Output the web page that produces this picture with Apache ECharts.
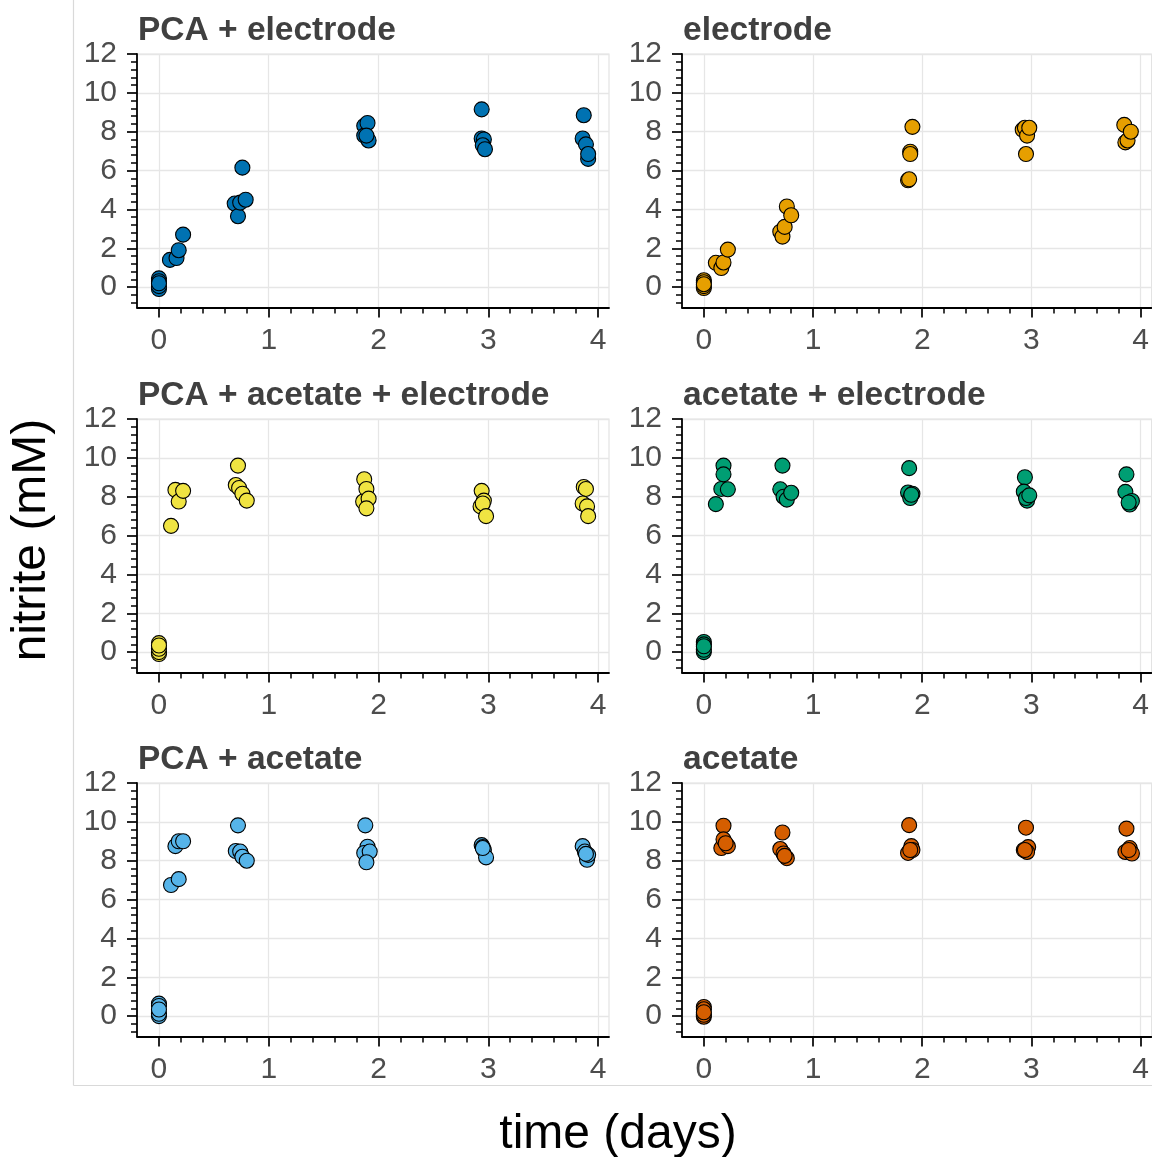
<!DOCTYPE html>
<html>
<head>
<meta charset="utf-8">
<script src="https://cdn.jsdelivr.net/npm/echarts@6/dist/echarts.min.js"></script>
<style>
html,body{margin:0;padding:0;background:#fff;}
#chart{width:1152px;height:1157px;}
</style>
</head>
<body>
<div id="chart"></div>
<script>
// ---- data ----
const panelTitles = ['PCA + electrode', 'electrode', 'PCA + acetate + electrode', 'acetate + electrode', 'PCA + acetate', 'acetate'];
const panelColors = ['#0072B2', '#E69F00', '#F0E442', '#009E73', '#56B4E9', '#D55E00'];
const xTickValues = [0, 1, 2, 3, 4];
const yTickValues = [0, 2, 4, 6, 8, 10, 12];

const pcaElectrodeTime = [0,0,0,0,0, 0.10,0.16,0.18,0.22, 0.69,0.72,0.74,0.76,0.79, 1.87,1.87,1.90,1.91,1.89, 2.94,2.94,2.96,2.95,2.97, 3.87,3.86,3.89,3.91,3.91];
const pcaElectrodeNitrite = [0.45,-0.1,0.05,0.3,0.2, 1.4,1.5,1.9,2.7, 4.3,3.65,4.35,6.15,4.5, 8.3,7.8,8.45,7.55,7.8, 9.15,7.65,7.6,7.3,7.1, 8.85,7.65,7.35,6.6,6.85];

const electrodeTime = [0,0,0,0,0, 0.11,0.16,0.18,0.22, 0.70,0.72,0.74,0.76,0.80, 1.87,1.88,1.89,1.89,1.91, 2.92,2.94,2.96,2.95,2.98, 3.85,3.86,3.88,3.91];
const electrodeNitrite = [0.35,-0.05,0.05,0.25,0.15, 1.25,0.98,1.27,1.93, 2.85,2.6,3.1,4.15,3.7, 5.5,5.55,6.97,6.85,8.25, 8.1,8.2,7.8,6.85,8.2, 8.35,7.45,7.55,8.0];

const pcaAcetateElectrodeTime = [0,0,0,0,0, 0.11,0.15,0.18,0.22, 0.72,0.70,0.73,0.76,0.80, 1.87,1.89,1.86,1.91,1.89, 2.94,2.96,2.93,2.95,2.98, 3.87,3.89,3.86,3.90,3.91];
const pcaAcetateElectrodeNitrite = [0.46,-0.1,0,0.17,0.34, 6.5,8.35,7.75,8.3, 9.6,8.6,8.45,8.15,7.8, 8.9,8.4,7.75,7.9,7.4, 8.3,7.8,7.5,7.65,7.0, 8.5,8.4,7.65,7.5,7.0];

const acetateElectrodeTime = [0,0,0,0,0, 0.11,0.16,0.18,0.18,0.22, 0.72,0.70,0.73,0.76,0.80, 1.88,1.87,1.91,1.89,1.90, 2.94,2.93,2.96,2.95,2.98, 3.87,3.86,3.90,3.92,3.89];
const acetateElectrodeNitrite = [0.52,0,0.12,0.4,0.3, 7.62,8.4,9.6,9.15,8.38, 9.6,8.38,8.0,7.85,8.2, 9.47,8.22,8.15,7.93,8.1, 9.0,8.26,7.8,7.93,8.07, 9.15,8.25,7.6,7.78,7.7];

const pcaAcetateTime = [0,0,0,0,0, 0.11,0.18,0.15,0.18,0.22, 0.72,0.70,0.74,0.76,0.80, 1.88,1.90,1.87,1.92,1.89, 2.94,2.95,2.96,2.98,2.95, 3.86,3.88,3.90,3.91,3.89];
const pcaAcetateNitrite = [0.64,0,0.12,0.52,0.34, 6.75,7.05,8.75,9.0,9.0, 9.82,8.5,8.47,8.2,8.0, 9.82,8.72,8.4,8.47,7.92, 8.8,8.7,8.55,8.17,8.65, 8.75,8.47,8.05,8.3,8.35];

const acetateTime = [0,0,0,0,0, 0.16,0.18,0.18,0.22,0.20, 0.72,0.70,0.73,0.76,0.74, 1.88,1.87,1.90,1.91,1.89, 2.95,2.93,2.97,2.96,2.94, 3.87,3.86,3.90,3.92,3.89];
const acetateNitrite = [0.47,-0.03,0.07,0.35,0.2, 8.65,9.8,9.1,8.75,8.9, 9.45,8.6,8.37,8.13,8.25, 9.83,8.4,8.75,8.55,8.55, 9.7,8.55,8.7,8.45,8.55, 9.65,8.45,8.65,8.37,8.55];

const panelTimes = [pcaElectrodeTime, electrodeTime, pcaAcetateElectrodeTime, acetateElectrodeTime, pcaAcetateTime, acetateTime];
const panelNitrite = [pcaElectrodeNitrite, electrodeNitrite, pcaAcetateElectrodeNitrite, acetateElectrodeNitrite, pcaAcetateNitrite, acetateNitrite];

// ---- layout ----
const FONT = '"Liberation Sans", Arial, Helvetica, sans-serif';
const colLeft = [137, 682];
const rowTop = [54, 419, 783];
const gridW = 472, gridH = 253.5;

const grids = [], xAxes = [], yAxes = [], series = [], titles = [];
for (let i = 0; i < 6; i++) {
  const r = Math.floor(i / 2), c = i % 2;
  grids.push({
    left: colLeft[c], top: rowTop[r], width: gridW, height: gridH,
    show: true, borderColor: '#e3e3e3', borderWidth: 1.2, backgroundColor: 'transparent'
  });
  xAxes.push({
    type: 'value', gridIndex: i, min: -0.2, max: 4.1, splitNumber: 5,
    axisLine: { onZero: false, lineStyle: { color: '#000', width: 1.8 } },
    axisTick: { customValues: xTickValues, length: 10, lineStyle: { color: '#000', width: 1.7 } },
    minorTick: { show: true, splitNumber: 5, length: 6, lineStyle: { color: '#000', width: 1.5 } },
    axisLabel: { customValues: xTickValues, margin: 18, fontSize: 30, color: '#4d4d4d', fontFamily: FONT,
      formatter: v => String(v) },
    splitLine: { show: true, lineStyle: { color: '#e6e6e6', width: 1.3 } }
  });
  yAxes.push({
    type: 'value', gridIndex: i, min: -1.05, max: 12, splitNumber: 6,
    axisLine: { onZero: false, lineStyle: { color: '#000', width: 1.8 } },
    axisTick: { customValues: yTickValues, length: 10, lineStyle: { color: '#000', width: 1.7 } },
    minorTick: { show: true, splitNumber: 5, length: 6, lineStyle: { color: '#000', width: 1.5 } },
    axisLabel: { customValues: yTickValues, margin: 20, fontSize: 30, color: '#4d4d4d', fontFamily: FONT,
      formatter: v => String(v) },
    splitLine: { show: true, lineStyle: { color: '#e6e6e6', width: 1.3 } }
  });
  series.push({
    type: 'scatter', xAxisIndex: i, yAxisIndex: i,
    symbol: 'circle', symbolSize: 15,
    itemStyle: { color: panelColors[i], borderColor: '#000', borderWidth: 1.1, opacity: 1 },
    data: panelTimes[i].map((t, k) => [t, panelNitrite[i][k]])
  });
  titles.push({
    text: panelTitles[i], left: colLeft[c] + 1, top: rowTop[r] - 40, padding: 0,
    textStyle: { fontSize: 33.5, fontWeight: 'bold', color: '#404040', fontFamily: FONT }
  });
}

const chart = echarts.init(document.getElementById('chart'), null, { renderer: 'canvas' });
chart.setOption({
  animation: false,
  backgroundColor: '#fff',
  title: titles,
  grid: grids,
  xAxis: xAxes,
  yAxis: yAxes,
  series: series,
  graphic: [
    { type: 'line', shape: { x1: 73.5, y1: 0, x2: 73.5, y2: 1085.5 }, style: { stroke: '#d9d9d9', lineWidth: 1.2 }, z: -1 },
    { type: 'line', shape: { x1: 73.5, y1: 1085.5, x2: 1152, y2: 1085.5 }, style: { stroke: '#d9d9d9', lineWidth: 1.2 }, z: -1 },
    { type: 'text', x: 32, y: 540, rotation: Math.PI / 2,
      style: { text: 'nitrite (mM)', font: '48px ' + FONT, fill: '#000', textAlign: 'center', textVerticalAlign: 'middle' } },
    { type: 'text', x: 618, y: 1135,
      style: { text: 'time (days)', font: '48px ' + FONT, fill: '#000', textAlign: 'center', textVerticalAlign: 'middle' } }
  ]
});
</script>
</body>
</html>
